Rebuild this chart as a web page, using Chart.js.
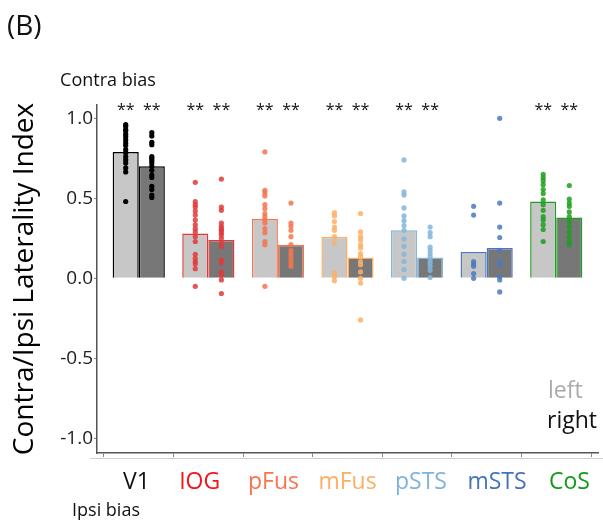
<!DOCTYPE html>
<html>
<head>
<meta charset="utf-8">
<script src="https://cdn.jsdelivr.net/npm/chart.js@4"></script>
<style>
  html, body { margin: 0; padding: 0; background: #fff; }
</style>
</head>
<body>
<canvas id="latChart" width="603" height="525"></canvas>
<script>
const regions = ['V1', 'IOG', 'pFus', 'mFus', 'pSTS', 'mSTS', 'CoS'];
const leftMeans = [0.79, 0.28, 0.37, 0.26, 0.30, 0.165, 0.48];
const rightMeans = [0.70, 0.24, 0.21, 0.13, 0.13, 0.19, 0.38];

// individual subjects, per region
const leftPoints = [
    [0.96, 0.95, 0.93, 0.92, 0.90, 0.885, 0.865, 0.845, 0.83, 0.805, 0.785, 0.76, 0.74, 0.72, 0.69, 0.665, 0.48],
    [0.60, 0.48, 0.46, 0.445, 0.42, 0.395, 0.365, 0.335, 0.31, 0.29, 0.26, 0.23, 0.15, 0.125, 0.105, 0.09, 0.06, -0.05],
    [0.79, 0.55, 0.535, 0.515, 0.46, 0.435, 0.405, 0.385, 0.365, 0.345, 0.31, 0.285, 0.23, 0.21, -0.05],
    [0.41, 0.39, 0.355, 0.32, 0.30, 0.26, 0.22, 0.035, 0.01, -0.015],
    [0.74, 0.54, 0.52, 0.44, 0.39, 0.36, 0.33, 0.30, 0.245, 0.20, 0.15, 0.105, 0.055, 0.0],
    [0.45, 0.395, 0.105, 0.09, 0.075, 0.03, 0.0],
    [0.65, 0.63, 0.61, 0.585, 0.555, 0.53, 0.49, 0.46, 0.425, 0.385, 0.365, 0.335, 0.305, 0.23]
];
const rightPoints = [
    [0.91, 0.89, 0.85, 0.835, 0.76, 0.75, 0.735, 0.72, 0.70, 0.675, 0.645, 0.63, 0.575, 0.555, 0.52, 0.505],
    [0.62, 0.445, 0.425, 0.345, 0.325, 0.31, 0.30, 0.285, 0.27, 0.25, 0.22, 0.20, 0.115, 0.095, 0.04, 0.02, -0.01, -0.095],
    [0.47, 0.345, 0.325, 0.30, 0.26, 0.21, 0.175, 0.155, 0.135, 0.115, 0.095, 0.075],
    [0.405, 0.29, 0.26, 0.24, 0.21, 0.19, 0.155, 0.135, 0.105, 0.085, 0.04, 0.0, -0.03, -0.26],
    [0.32, 0.285, 0.26, 0.195, 0.175, 0.155, 0.135, 0.115, 0.095, 0.075, 0.05, 0.005],
    [1.0, 0.47, 0.32, 0.255, 0.175, 0.105, 0.085, 0.01, -0.01, -0.085],
    [0.58, 0.495, 0.47, 0.45, 0.415, 0.385, 0.355, 0.325, 0.29, 0.26, 0.23, 0.21]
];
const sigLeft = ['**', '**', '**', '**', '**', '', '**'];
const sigRight = ['**', '**', '**', '**', '**', '', '**'];
const yTicks = [-1.0, -0.5, 0.0, 0.5, 1.0];

const regionColors = ['#000000', '#E2383A', '#F4764E', '#FDB065', '#84B5DC', '#4C79BD', '#1E9E1E'];
const labelColors = ['#111111', '#F5141A', '#F8744C', '#FDAE61', '#80B3DB', '#4673B8', '#12991A'];
// the region names in the figure sit a little off their ticks
const labelX = [136.5, 199.7, 273.5, 347.5, 421, 497, 569.5];
const leftFill = '#C7C7C7';
const rightFill = '#777777';
const FONT = '"Open Sans", sans-serif';
const half = 0.1875; // half of a bar, in category units

function withAlpha(hex, a) {
    const n = parseInt(hex.slice(1), 16);
    return 'rgba(' + (n >> 16) + ',' + ((n >> 8) & 255) + ',' + (n & 255) + ',' + a + ')';
}

let datasets = [
    {
        type: 'bar',
        label: 'left',
        data: leftMeans.map((v, i) => ({ x: i, y: v })),
        backgroundColor: leftFill,
        borderColor: regionColors,
        borderWidth: 1.5,
        categoryPercentage: 0.75,
        barPercentage: 1.0,
        order: 2
    },
    {
        type: 'bar',
        label: 'right',
        data: rightMeans.map((v, i) => ({ x: i, y: v })),
        backgroundColor: rightFill,
        borderColor: regionColors,
        borderWidth: 1.5,
        categoryPercentage: 0.75,
        barPercentage: 1.0,
        order: 2
    }
];

regions.forEach((r, i) => {
    const pts = leftPoints[i].map(v => ({ x: i - half, y: v }))
        .concat(rightPoints[i].map(v => ({ x: i + half, y: v })));
    datasets.push({
        type: 'scatter',
        label: r + ' subjects',
        data: pts,
        pointRadius: 2.6,
        pointBorderWidth: 0,
        pointBackgroundColor: i === 0 ? '#000' : withAlpha(regionColors[i], 0.85),
        order: 0
    });
});

const annotations = {
    id: 'annotations',
    afterDraw(chart) {
        const ctx = chart.ctx;
        const xs = chart.scales.x;
        ctx.save();
        // thin light line under the x axis
        ctx.strokeStyle = '#d0d0d0';
        ctx.lineWidth = 1;
        ctx.beginPath();
        ctx.moveTo(90, 458.5);
        ctx.lineTo(603, 458.5);
        ctx.stroke();

        ctx.fillStyle = '#111';
        ctx.textAlign = 'center';
        ctx.textBaseline = 'alphabetic';
        ctx.font = '16px ' + FONT;
        regions.forEach((r, i) => {
            if (sigLeft[i]) ctx.fillText(sigLeft[i], xs.getPixelForValue(i - half), 115);
            if (sigRight[i]) ctx.fillText(sigRight[i], xs.getPixelForValue(i + half), 115);
        });

        // region names
        ctx.font = '23px ' + FONT;
        regions.forEach((r, i) => {
            ctx.fillStyle = labelColors[i];
            ctx.fillText(r, labelX[i], 489);
        });

        ctx.fillStyle = '#111';
        ctx.textAlign = 'left';
        ctx.font = '28px ' + FONT;
        ctx.fillText('(B)', 7, 35);

        ctx.textAlign = 'center';
        ctx.font = '18px ' + FONT;
        ctx.fillText('Contra bias', 108, 86);
        ctx.fillText('Ipsi bias', 106, 516);

        ctx.textAlign = 'left';
        ctx.font = '23px ' + FONT;
        ctx.fillStyle = '#AAAAAA';
        ctx.fillText('left', 548, 398);
        ctx.fillStyle = '#111';
        ctx.fillText('right', 547, 428);
        ctx.restore();
    }
};

new Chart(document.getElementById('latChart').getContext('2d'), {
    type: 'bar',
    data: { datasets: datasets },
    options: {
        responsive: false,
        animation: false,
        layout: { padding: { top: 105, right: 5, left: 0, bottom: 0 } },
        plugins: {
            legend: { display: false },
            tooltip: { enabled: false }
        },
        scales: {
            x: {
                type: 'linear',
                min: -0.6,
                max: 6.6,
                offset: false,
                grid: { drawOnChartArea: false, drawTicks: true, tickLength: 4, color: '#888' },
                border: { color: '#555', width: 1.5 },
                afterBuildTicks: (s) => { s.ticks = regions.map((r, i) => ({ value: i })); },
                afterFit: (s) => { s.height = 72; },
                ticks: {
                    autoSkip: false,
                    maxRotation: 0,
                    callback: () => ''
                }
            },
            y: {
                min: -1.092,
                max: 1.083,
                grid: { drawOnChartArea: false, drawTicks: true, tickLength: 3, color: '#888' },
                border: { color: '#555', width: 1.5 },
                afterBuildTicks: (s) => { s.ticks = yTicks.map(v => ({ value: v })); },
                afterFit: (s) => { s.width = 97; },
                ticks: {
                    padding: 1,
                    font: { family: FONT, size: 19 },
                    color: '#222',
                    callback: (v) => v.toFixed(1)
                },
                title: {
                    display: true,
                    text: 'Contra/Ipsi Laterality Index',
                    color: '#000',
                    font: { family: FONT, size: 28 },
                    padding: { top: 8, bottom: 0 }
                }
            }
        }
    },
    plugins: [annotations]
});
</script>
</body>
</html>
